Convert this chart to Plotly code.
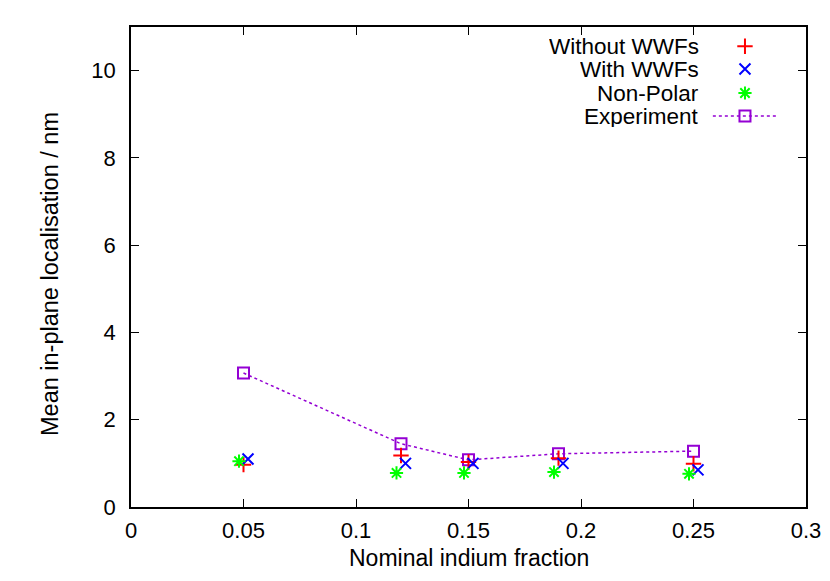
import plotly.graph_objects as go

# values
x_without = [0.05, 0.12, 0.15, 0.19, 0.25]
y_without = [0.97, 1.18, 1.03, 1.12, 0.99]

x_with = [0.052, 0.122, 0.152, 0.192, 0.252]
y_with = [1.10, 1.00, 1.00, 1.00, 0.85]

x_nonpolar = [0.048, 0.118, 0.148, 0.188, 0.248]
y_nonpolar = [1.05, 0.78, 0.78, 0.80, 0.76]

x_exp = [0.05, 0.12, 0.15, 0.19, 0.25]
y_exp = [3.07, 1.45, 1.08, 1.22, 1.28]

x_ticks = [0, 0.05, 0.1, 0.15, 0.2, 0.25, 0.3]
x_ticktext = ["0", "0.05", "0.1", "0.15", "0.2", "0.25", "0.3"]
y_ticks = [0, 2, 4, 6, 8, 10]

series_names = ["Without WWFs", "With WWFs", "Non-Polar", "Experiment"]

RED = "#ff0000"
BLUE = "#0000ff"
GREEN = "#00ff00"
PURPLE = "#9400d3"
FONT = "Liberation Sans"

fig = go.Figure()

# experiment line with open squares
fig.add_trace(go.Scatter(x=x_exp, y=y_exp, mode="lines+markers", name=series_names[3],
                         line=dict(color=PURPLE, width=1.5, dash="dot"),
                         marker=dict(symbol="square-open", size=11, color=PURPLE, line=dict(width=2))))
fig.add_trace(go.Scatter(x=x_without, y=y_without, mode="markers", name=series_names[0],
                         marker=dict(symbol="cross-thin-open", size=11, color=RED, line=dict(width=2, color=RED))))
fig.add_trace(go.Scatter(x=x_with, y=y_with, mode="markers", name=series_names[1],
                         marker=dict(symbol="x-thin-open", size=11, color=BLUE, line=dict(width=2, color=BLUE))))
fig.add_trace(go.Scatter(x=x_nonpolar, y=y_nonpolar, mode="markers", name=series_names[2],
                         marker=dict(symbol="asterisk-open", size=11, color=GREEN, line=dict(width=2, color=GREEN))))

# gnuplot-style key: right-aligned text, sample on the right (drawn on a hidden overlay axis)
key_rows = [0.960, 0.9125, 0.8625, 0.8146]
key_sym = 0.9096
key_text_x = 0.845
key_styles = [
    dict(symbol="cross-thin-open", color=RED),
    dict(symbol="x-thin-open", color=BLUE),
    dict(symbol="asterisk-open", color=GREEN),
    dict(symbol="square-open", color=PURPLE),
]
for name, yk, st in zip(series_names, key_rows, key_styles):
    fig.add_trace(go.Scatter(x=[key_sym], y=[yk], xaxis="x2", yaxis="y2", mode="markers",
                             showlegend=False, hoverinfo="skip",
                             marker=dict(symbol=st["symbol"], size=11, color=st["color"],
                                         line=dict(width=2, color=st["color"]))))
    fig.add_annotation(x=key_text_x, y=yk, xref="x2", yref="y2", text=name, showarrow=False,
                       xanchor="right", yanchor="middle", height=22, valign="middle",
                       font=dict(family=FONT, size=22.5, color="black"))
fig.add_trace(go.Scatter(x=[0.862, 0.957], y=[key_rows[3], key_rows[3]], xaxis="x2", yaxis="y2",
                         mode="lines", showlegend=False, hoverinfo="skip",
                         line=dict(color=PURPLE, width=1.5, dash="dot")))

# axis titles as annotations so they don't push the margins
fig.add_annotation(x=0.5, y=0, xref="paper", yref="paper", yshift=-51, text="Nominal indium fraction",
                   showarrow=False, xanchor="center", yanchor="middle",
                   font=dict(family=FONT, size=23, color="black"))
fig.add_annotation(x=0, y=0.5, xref="paper", yref="paper", xshift=-81, yshift=-7,
                   text="Mean in-plane localisation / nm", textangle=-90,
                   showarrow=False, xanchor="center", yanchor="middle",
                   font=dict(family=FONT, size=23.5, color="black"))

axis_common = dict(showline=True, linecolor="black", linewidth=1.5, mirror="ticks",
                   ticks="inside", ticklen=8, tickwidth=1, tickcolor="black",
                   showgrid=False, zeroline=False, automargin=False,
                   tickfont=dict(family=FONT, size=22, color="black"))

# the page adds an 8px body margin, so the figure is a bit smaller than the window
fig.update_layout(
    width=814, height=565,
    margin=dict(l=123, r=16, t=19, b=66),
    paper_bgcolor="white", plot_bgcolor="white",
    showlegend=False,
    font=dict(family=FONT, size=22, color="black"),
    xaxis=dict(range=[0, 0.3], tickvals=x_ticks, ticktext=x_ticktext, ticklabelstandoff=3,
               **axis_common),
    yaxis=dict(range=[0, 11], tickvals=y_ticks, ticklabelstandoff=9,
               **axis_common),
    xaxis2=dict(overlaying="x", range=[0, 1], visible=False, fixedrange=True),
    yaxis2=dict(overlaying="y", range=[0, 1], visible=False, fixedrange=True),
)

fig.write_html("out.html")
